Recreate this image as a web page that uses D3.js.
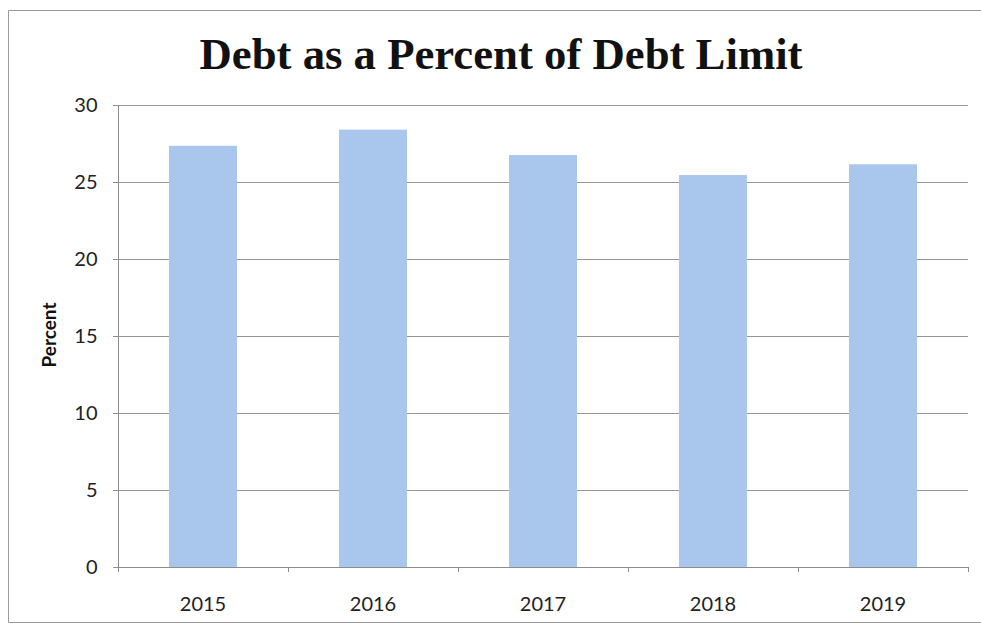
<!DOCTYPE html>
<html>
  <head>
    <meta charset="utf-8" />
    <title>Debt as a Percent of Debt Limit</title>
    <script src="https://d3js.org/d3.v7.min.js"></script>
    <style>
      body { margin: 0; background: #fff; }
      svg { display: block; }
    </style>
  </head>
  <body>
    <svg width="981" height="625"></svg>

    <script>
      // Values
      const years = ["2015", "2016", "2017", "2018", "2019"];
      const percents = [27.35, 28.4, 26.75, 25.45, 26.15];
      const yTicks = [0, 5, 10, 15, 20, 25, 30];

      const svg = d3.select("svg");
      const labelFont = "Lato, 'Open Sans', sans-serif";

      // Plot area
      const plotLeft = 118, plotRight = 968, plotTop = 105, plotBottom = 567;

      const x = d3.scaleBand().domain(years).range([plotLeft, plotRight]).paddingInner(0.6).paddingOuter(0.3);
      const y = d3.scaleLinear().domain([0, 30]).range([plotBottom, plotTop]);

      // Outer frame (top, left and bottom edges visible)
      svg.append("path")
        .attr("d", "M981,10.5 H8.5 V622.5 H981")
        .attr("fill", "none")
        .attr("stroke", "#9a9a9a")
        .attr("stroke-width", 1);

      // Title
      svg.append("text")
        .attr("x", 501)
        .attr("y", 69)
        .attr("text-anchor", "middle")
        .attr("font-family", "'Liberation Serif', serif")
        .attr("font-weight", "bold")
        .attr("font-size", 45)
        .attr("textLength", 603)
        .attr("lengthAdjust", "spacingAndGlyphs")
        .attr("fill", "#111")
        .text("Debt as a Percent of Debt Limit");

      // Gridlines
      svg.append("g")
        .selectAll("line")
        .data(yTicks.filter((d) => d > 0))
        .enter()
        .append("line")
        .attr("x1", plotLeft - 5)
        .attr("x2", plotRight)
        .attr("y1", (d) => Math.round(y(d)) + 0.5)
        .attr("y2", (d) => Math.round(y(d)) + 0.5)
        .attr("stroke", "#969696")
        .attr("stroke-width", 1);

      // Bars
      svg.append("g")
        .selectAll("rect")
        .data(years)
        .enter()
        .append("rect")
        .attr("x", (d) => x(d))
        .attr("y", (d, i) => y(percents[i]))
        .attr("width", x.bandwidth())
        .attr("height", (d, i) => plotBottom - y(percents[i]))
        .attr("fill", "#a9c6ec");

      // Y axis
      const yAxis = svg.append("g")
        .attr("transform", `translate(${plotLeft + 0.5},0)`)
        .call(d3.axisLeft(y).tickValues(yTicks).tickSize(5).tickPadding(16));
      yAxis.select(".domain").attr("stroke", "#8c8c8c").attr("d", `M-5,${plotBottom}.5H0V${plotTop}`);
      yAxis.selectAll(".tick line").attr("stroke", "#8c8c8c");
      yAxis.selectAll(".tick text")
        .attr("font-family", labelFont)
        .attr("font-size", 20)
        .attr("fill", "#222");

      // X axis
      const xAxis = svg.append("g")
        .attr("transform", `translate(0,${plotBottom + 0.5})`)
        .call(d3.axisBottom(x).tickSize(0).tickPadding(29));
      xAxis.select(".domain").attr("stroke", "#8c8c8c").attr("d", `M${plotLeft},0H${plotRight}`);
      xAxis.selectAll(".tick text")
        .attr("font-family", labelFont)
        .attr("font-size", 20)
        .attr("fill", "#222");

      // Category boundary ticks
      const bounds = d3.range(years.length + 1).map((i) => plotLeft + i * (plotRight - plotLeft) / years.length);
      svg.append("g")
        .selectAll("line")
        .data(bounds)
        .enter()
        .append("line")
        .attr("x1", (d) => Math.round(d) + 0.5)
        .attr("x2", (d) => Math.round(d) + 0.5)
        .attr("y1", plotBottom)
        .attr("y2", plotBottom + 5)
        .attr("stroke", "#8c8c8c");

      // Y axis title
      svg.append("text")
        .attr("transform", "translate(56,335) rotate(-90)")
        .attr("text-anchor", "middle")
        .attr("font-family", labelFont)
        .attr("font-weight", "bold")
        .attr("font-size", 19)
        .attr("fill", "#111")
        .text("Percent");
    </script>
  </body>
</html>
